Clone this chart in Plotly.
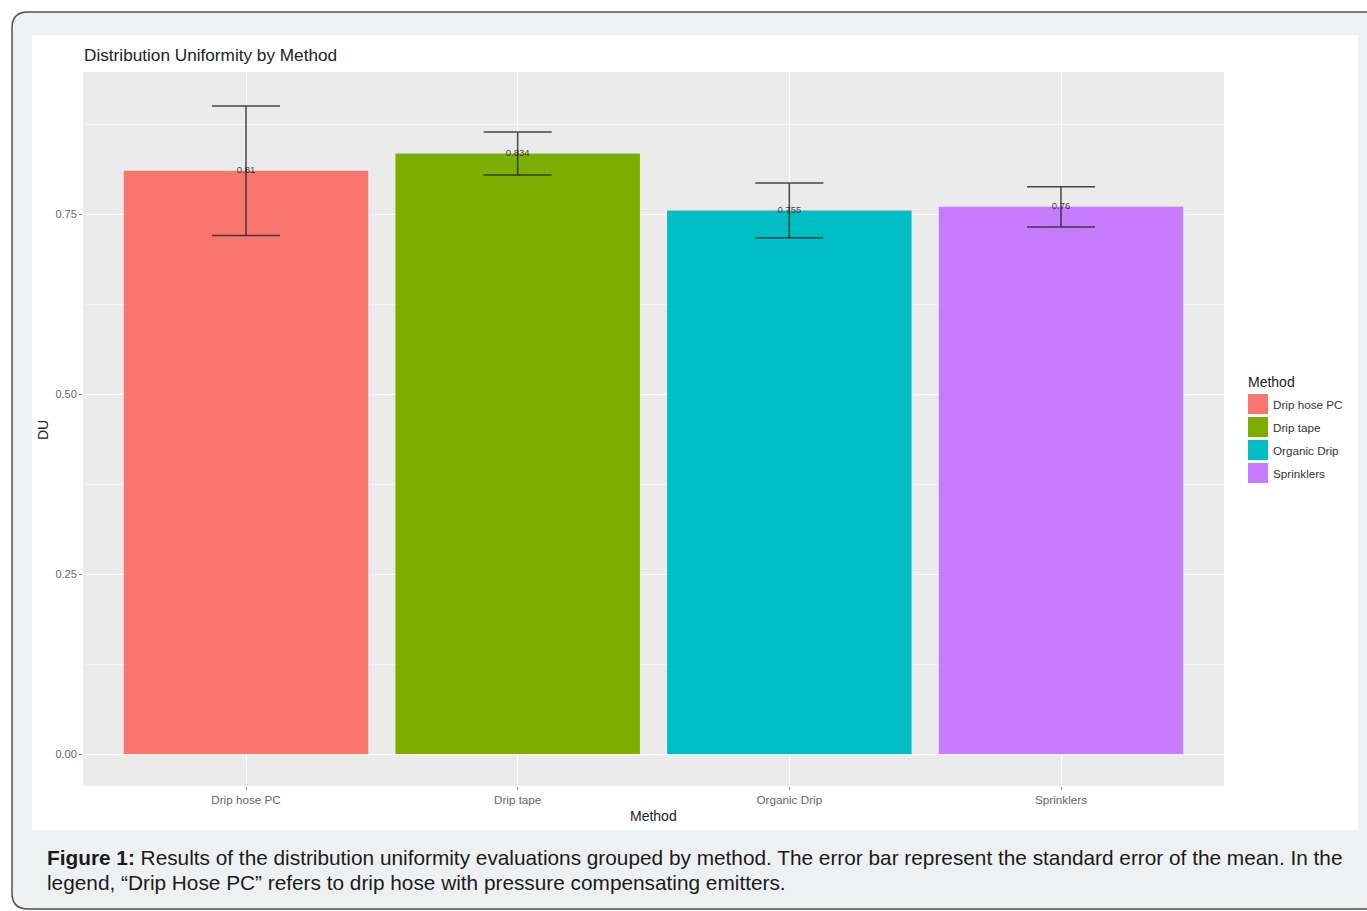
import plotly.graph_objects as go

# ---- data ----
methods = ["Drip hose PC", "Drip tape", "Organic Drip", "Sprinklers"]
du_mean = [0.81, 0.834, 0.755, 0.76]
du_se = [0.090, 0.030, 0.038, 0.028]
labels = ["0.81", "0.834", "0.755", "0.76"]
colors = ["#F8766D", "#7CAE00", "#00BFC4", "#C77CFF"]
y_ticks = [0.0, 0.25, 0.50, 0.75]
y_tick_text = ["0.00", "0.25", "0.50", "0.75"]

W, H = 1367, 911
PL, PR, PT, PB = 83, 1224, 72, 786  # panel pixel box
FONT = "Liberation Sans, Arial"


def X(px):
    return (px - PL) / (PR - PL)


def Y(py):
    return (PB - py) / (PB - PT)


fig = go.Figure()

for i, m in enumerate(methods):
    fig.add_trace(go.Bar(
        x=[m], y=[du_mean[i]], marker=dict(color=colors[i], line=dict(width=0)),
        width=0.9, showlegend=False,
        error_y=dict(type="data", array=[du_se[i]], visible=True,
                     color="rgba(40,40,40,0.85)", thickness=1.5, width=34),
        hoverinfo="skip",
    ))

fig.add_trace(go.Scatter(
    x=methods, y=du_mean, mode="text", text=labels,
    textposition="middle center",
    textfont=dict(family=FONT, size=9.5, color="rgba(0,0,0,0.75)"),
    showlegend=False, hoverinfo="skip",
))

shapes = []
# outer rounded frame
r = 16
L, T, R, B = 12, 12, 1390, 909
path = (f"M {X(L + r)},{Y(T)} L {X(R)},{Y(T)} L {X(R)},{Y(B)} L {X(L + r)},{Y(B)} "
        f"Q {X(L)},{Y(B)} {X(L)},{Y(B - r)} L {X(L)},{Y(T + r)} "
        f"Q {X(L)},{Y(T)} {X(L + r)},{Y(T)} Z")
shapes.append(dict(type="path", xref="paper", yref="paper", path=path,
                   fillcolor="#EFF0F2", line=dict(color="#505050", width=1.5), layer="below"))
# white figure area
shapes.append(dict(type="rect", xref="paper", yref="paper",
                   x0=X(32), x1=X(1358), y0=Y(830), y1=Y(35),
                   fillcolor="white", line=dict(width=0), layer="below"))
# panel background
shapes.append(dict(type="rect", xref="x domain", yref="y domain",
                   x0=0, x1=1, y0=0, y1=1,
                   fillcolor="#EBEBEB", line=dict(width=0), layer="below"))

annotations = []
# manual legend
annotations.append(dict(text="Method", xref="paper", yref="paper", x=X(1246), y=Y(382),
                        xanchor="left", yanchor="middle", showarrow=False,
                        font=dict(family=FONT, size=14, color="#222")))
for i, m in enumerate(methods):
    cy = 404 + 23 * i
    shapes.append(dict(type="rect", xref="paper", yref="paper",
                       x0=X(1248), x1=X(1268), y0=Y(cy + 10), y1=Y(cy - 10),
                       fillcolor=colors[i], line=dict(width=0)))
    annotations.append(dict(text=m, xref="paper", yref="paper", x=X(1271), y=Y(cy),
                            xanchor="left", yanchor="middle", showarrow=False,
                            font=dict(family=FONT, size=11.7, color="#333")))

# titles
annotations.append(dict(text="Distribution Uniformity by Method", xref="paper", yref="paper",
                        x=X(82), y=Y(55), xanchor="left", yanchor="middle", showarrow=False,
                        font=dict(family=FONT, size=17.2, color="#222")))
annotations.append(dict(text="DU", xref="paper", yref="paper", x=X(43), y=Y(430),
                        xanchor="center", yanchor="middle", textangle=-90, showarrow=False,
                        font=dict(family=FONT, size=14, color="#222")))
annotations.append(dict(text="Method", xref="paper", yref="paper", x=X(653), y=Y(816),
                        xanchor="center", yanchor="middle", showarrow=False,
                        font=dict(family=FONT, size=14, color="#222")))
# caption
cap_font = dict(family=FONT, size=20.8, color="#1a1a1a")
annotations.append(dict(text="<b>Figure 1:</b> Results of the distribution uniformity evaluations grouped by method. "
                             "The error bar represent the standard error of the mean. In the",
                        xref="paper", yref="paper", x=X(45), y=Y(857), xanchor="left",
                        yanchor="middle", showarrow=False, font=cap_font))
annotations.append(dict(text="legend, \u201cDrip Hose PC\u201d refers to drip hose with pressure compensating emitters.",
                        xref="paper", yref="paper", x=X(45), y=Y(882), xanchor="left",
                        yanchor="middle", showarrow=False, font=cap_font))

y0 = (PB - 754) / 720.0
fig.update_layout(
    width=W, height=H,
    margin=dict(l=PL, r=W - PR, t=PT, b=H - PB, pad=0),
    paper_bgcolor="white", plot_bgcolor="#EBEBEB",
    shapes=shapes, annotations=annotations,
    bargap=0.1, showlegend=False,
    xaxis=dict(
        type="category", categoryorder="array", categoryarray=methods,
        range=[-0.6, 3.6], showgrid=True, gridcolor="white", gridwidth=1.1,
        zeroline=False, showline=False, ticks="outside", ticklen=3, tickcolor="#888",
        tickfont=dict(family=FONT, size=11.7, color="#666"),
        fixedrange=True,
    ),
    yaxis=dict(
        range=[-y0, (754 - PT) / 720.0], tickvals=y_ticks, ticktext=y_tick_text,
        showgrid=True, gridcolor="white", gridwidth=1.1,
        minor=dict(dtick=0.125, tick0=0.125, showgrid=True, gridcolor="#F7F7F7", gridwidth=0.6),
        zeroline=False, showline=False, ticks="outside", ticklen=3, tickcolor="#888",
        tickfont=dict(family=FONT, size=11, color="#666"),
        fixedrange=True,
    ),
    font=dict(family=FONT),
)

fig.write_html("out.html", config={"displayModeBar": False})
